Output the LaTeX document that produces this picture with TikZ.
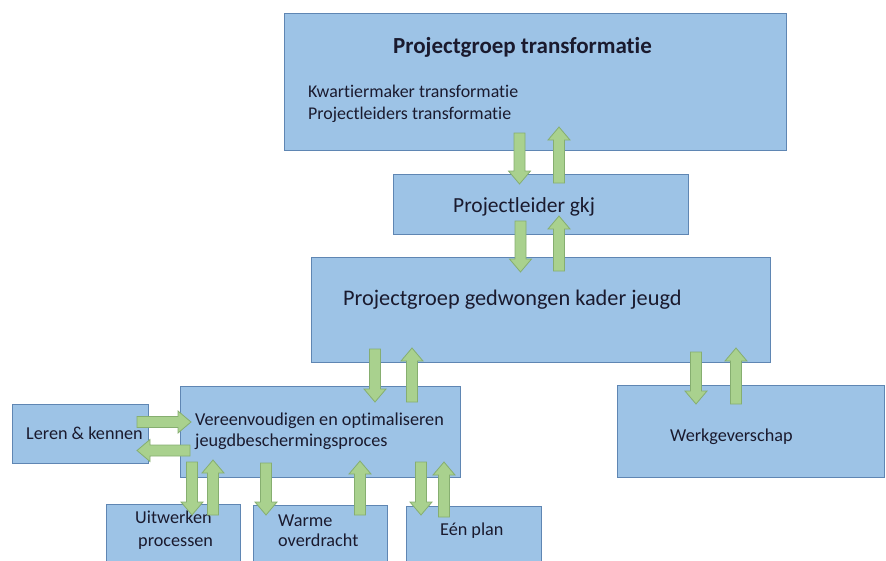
\documentclass[tikz,border=0pt]{standalone}
\usepackage{fontspec}
\setmainfont[Ligatures=NoCommon]{Carlito}
\definecolor{boxfill}{HTML}{9DC3E6}
\definecolor{boxline}{HTML}{5F86B3}
\definecolor{arrfill}{HTML}{A9D18E}
\definecolor{arrline}{HTML}{86AE70}
\definecolor{txt}{HTML}{1A1A2E}
\tikzset{
  box/.style={draw=boxline, fill=boxfill, line width=0.9pt, inner sep=0pt},
  lbl/.style={anchor=base west, inner sep=0pt, text=txt},
  body/.style={font=\fontsize{18.2}{21}\selectfont},
  big/.style={font=\fontsize{22.3}{26}\selectfont},
  blk/.style={draw=arrline, fill=arrfill, line width=0.8pt, line join=miter}
}
% vertical block arrow: #1 = x, #2 = tail y, #3 = tip y
\newcommand\vblock[3]{%
  \pgfmathsetmacro\hd{#3>#2 ? -13 : 13}%
  \draw[blk] (#1-5.5,#2) -- (#1-5.5,#3+\hd) -- (#1-11,#3+\hd) -- (#1,#3)
    -- (#1+11,#3+\hd) -- (#1+5.5,#3+\hd) -- (#1+5.5,#2) -- cycle;}
% horizontal block arrow: #1 = y, #2 = tail x, #3 = tip x
\newcommand\hblock[3]{%
  \pgfmathsetmacro\hd{#3>#2 ? -13 : 13}%
  \draw[blk] (#2,#1-5.5) -- (#3+\hd,#1-5.5) -- (#3+\hd,#1-11) -- (#3,#1)
    -- (#3+\hd,#1+11) -- (#3+\hd,#1+5.5) -- (#2,#1+5.5) -- cycle;}
\begin{document}
\begin{tikzpicture}[x=1pt,y=-1pt]
\useasboundingbox (0,0) rectangle (886,560);
\clip (0,0) rectangle (886,560);
% boxes
\node[box, minimum width=502, minimum height=137] (top) at (535,81.5) {};
\node[box, minimum width=295, minimum height=60] (gkj) at (540.5,204) {};
\node[box, minimum width=459, minimum height=105] (pg) at (540.5,309.5) {};
\node[box, minimum width=280, minimum height=91] (ver) at (320,431.5) {};
\node[box, minimum width=136, minimum height=59] (leren) at (80,433.5) {};
\node[box, minimum width=267, minimum height=92] (werk) at (750.5,431) {};
\node[box, minimum width=134, minimum height=62] (uit) at (173,535) {};
\node[box, minimum width=134, minimum height=62] (warme) at (320,536) {};
\node[box, minimum width=135, minimum height=62] (een) at (473.5,537) {};
% texts
\node[lbl, font=\bfseries\fontsize{23}{27}\selectfont] (t1) at (393,53) {Projectgroep transformatie};
\node[lbl, font=\fontsize{17.9}{21}\selectfont] (t2) at (308,97) {Kwartiermaker transformatie};
\node[lbl, font=\fontsize{17.9}{21}\selectfont] (t3) at (308,119) {Projectleiders transformatie};
\node[lbl, font=\fontsize{21.5}{25}\selectfont] (t4) at (453,212) {Projectleider gkj};
\node[lbl, big] (t5) at (343,305) {Projectgroep gedwongen kader jeugd};
\node[lbl, body] (t6) at (195,425) {Vereenvoudigen en optimaliseren};
\node[lbl, body] (t7) at (195,446) {jeugdbeschermingsproces};
\node[lbl, body] (t8) at (26,439) {Leren \& kennen};
\node[lbl, body] (t9) at (670,441) {Werkgeverschap};
\node[lbl, body] (t10) at (135,523) {Uitwerken};
\node[lbl, body] (t11) at (138,546) {processen};
\node[lbl, body] (t12) at (278,526) {Warme};
\node[lbl, body] (t13) at (278,546) {overdracht};
\node[lbl, body] (t14) at (440,535) {Eén plan};
% block arrows (drawn on top)
\vblock{519.5}{133}{184}
\vblock{559}{183}{127}
\vblock{520.5}{221}{272}
\vblock{559}{271}{216}
\vblock{375}{349}{402}
\vblock{412}{402}{348}
\vblock{696}{352}{404}
\vblock{736}{404}{348}
\vblock{192}{462}{515}
\vblock{213}{515}{460}
\vblock{266}{463}{515}
\vblock{360}{515}{461}
\vblock{421}{462}{515}
\vblock{444}{517}{462}
\hblock{422}{137}{191}
\hblock{450.5}{190}{137}
\end{tikzpicture}
\end{document}
